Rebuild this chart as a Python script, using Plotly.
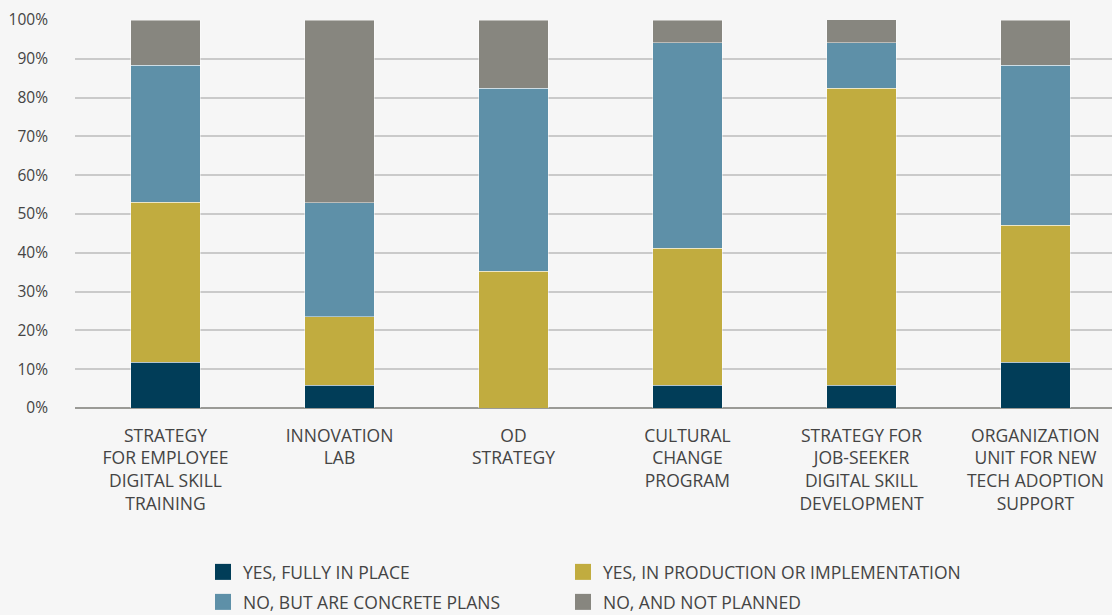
import plotly.graph_objects as go

categories = [
    "STRATEGY<br>FOR EMPLOYEE<br>DIGITAL SKILL<br>TRAINING",
    "INNOVATION<br>LAB",
    "OD<br>STRATEGY",
    "CULTURAL<br>CHANGE<br>PROGRAM",
    "STRATEGY FOR<br>JOB-SEEKER<br>DIGITAL SKILL<br>DEVELOPMENT",
    "ORGANIZATION<br>UNIT FOR NEW<br>TECH ADOPTION<br>SUPPORT",
]

fully_in_place = [11.8, 5.9, 0.0, 5.9, 5.9, 11.8]
in_production = [41.2, 17.6, 35.3, 35.3, 76.5, 35.3]
concrete_plans = [35.3, 29.4, 47.1, 52.9, 11.8, 41.2]
not_planned = [11.7, 47.1, 17.6, 5.9, 5.9, 11.7]

y_ticks = [0, 10, 20, 30, 40, 50, 60, 70, 80, 90, 100]
y_tick_labels = [f"{v}%" for v in y_ticks]

series = [
    ("YES, FULLY IN PLACE", fully_in_place, "#013D58"),
    ("YES, IN PRODUCTION OR IMPLEMENTATION", in_production, "#C1AC3F"),
    ("NO, BUT ARE CONCRETE PLANS", concrete_plans, "#5E90A8"),
    ("NO, AND NOT PLANNED", not_planned, "#87867F"),
]

# legend grid: two columns, two rows (pixel positions in the page)
legend_cols = [203, 563]
legend_rows = [572, 602]

x_idx = list(range(len(categories)))
txt = "#444444"
font = dict(family="Open Sans", size=17.5, color=txt)

fig = go.Figure()
legend_layout = {}
for i, (name, vals, color) in enumerate(series):
    leg_id = "legend" if i == 0 else f"legend{i + 1}"
    fig.add_trace(go.Bar(
        x=x_idx, y=vals, name=name, showlegend=False,
        marker=dict(color=color, line=dict(color="rgba(255,255,255,0.45)", width=1)),
        width=0.40,
    ))
    # legend swatch for the series
    fig.add_trace(go.Scatter(
        x=[None], y=[None], mode="markers", name=name, legend=leg_id,
        marker=dict(symbol="square", size=16, color=color),
    ))
    legend_layout[leg_id] = dict(
        x=legend_cols[i % 2] / 1112, y=1 - legend_rows[i // 2] / 615,
        xref="container", yref="container",
        xanchor="left", yanchor="middle", orientation="h",
        font=font, bgcolor="rgba(0,0,0,0)", itemsizing="trace",
    )

fig.update_layout(
    width=1112, height=615,
    margin=dict(l=75, r=0, t=20, b=207, autoexpand=False),
    paper_bgcolor="#F6F6F6", plot_bgcolor="#F6F6F6",
    barmode="stack",
    font=font,
    showlegend=True,
    xaxis=dict(
        tickmode="array", tickvals=x_idx, ticktext=categories,
        range=[-0.52, 5.44], showgrid=False, zeroline=False,
        ticks="", showline=False, ticklabelstandoff=15, automargin=False,
        tickfont=dict(family="Open Sans", size=17.5, color=txt),
    ),
    yaxis=dict(
        range=[0, 100], tickmode="array", tickvals=y_ticks, ticktext=y_tick_labels,
        showgrid=True, gridcolor="#CACACA", gridwidth=1.5,
        zeroline=True, zerolinecolor="#9A9A96", zerolinewidth=2,
        showline=False, ticks="", ticklabelstandoff=26, automargin=False,
        tickfont=dict(family="Open Sans", size=15.5, color=txt),
    ),
    **legend_layout,
)

fig.write_html("out.html")
